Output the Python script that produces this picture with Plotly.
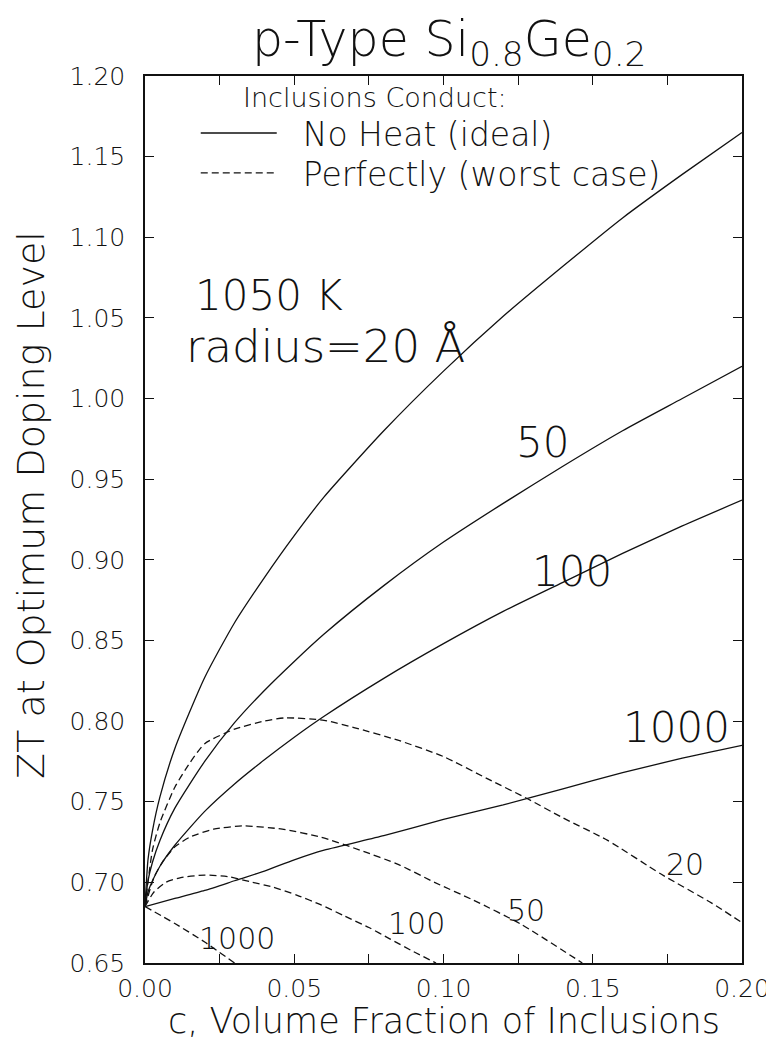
import plotly.graph_objects as go

# ---------------- data ----------------
c_solid = [0, 0.001, 0.0025, 0.005, 0.01, 0.02, 0.03, 0.04, 0.05, 0.06, 0.08,
           0.10, 0.12, 0.14, 0.16, 0.18, 0.20]
zt_ideal_20 = [0.685, 0.714, 0.732, 0.753, 0.783, 0.827, 0.861, 0.889, 0.915, 0.939,
               0.980, 1.017, 1.051, 1.082, 1.112, 1.139, 1.165]
zt_ideal_50 = [0.685, 0.701, 0.7125, 0.726, 0.746, 0.775, 0.799, 0.819, 0.837, 0.854,
               0.884, 0.911, 0.935, 0.958, 0.980, 1.000, 1.020]
zt_ideal_100 = [0.685, 0.694, 0.701, 0.710, 0.723, 0.744, 0.761, 0.776, 0.790, 0.803,
                0.8265, 0.848, 0.868, 0.886, 0.904, 0.921, 0.937]
c_ideal_1000 = [0, 0.01, 0.02, 0.03, 0.04, 0.05, 0.06, 0.08, 0.10, 0.12, 0.14, 0.16, 0.18, 0.20]
zt_ideal_1000 = [0.685, 0.690, 0.695, 0.701, 0.707, 0.714, 0.720, 0.729, 0.739, 0.748,
                 0.758, 0.768, 0.777, 0.785]

c_worst_20 = [0, 0.0025, 0.005, 0.01, 0.015, 0.02, 0.03, 0.04, 0.047, 0.06, 0.07, 0.085,
              0.10, 0.115, 0.128, 0.14, 0.155, 0.173, 0.19, 0.20]
zt_worst_20 = [0.685, 0.720, 0.737, 0.759, 0.774, 0.786, 0.795, 0.800, 0.802, 0.8005,
               0.796, 0.788, 0.778, 0.764, 0.752, 0.740, 0.726, 0.705, 0.687, 0.675]
c_worst_50 = [0, 0.003, 0.006, 0.01, 0.015, 0.023, 0.033, 0.046, 0.059, 0.072, 0.085,
              0.097, 0.11, 0.126, 0.1465]
zt_worst_50 = [0.685, 0.703, 0.713, 0.722, 0.728, 0.733, 0.735, 0.733, 0.728, 0.720,
               0.711, 0.700, 0.689, 0.674, 0.650]
c_worst_100 = [0, 0.003, 0.007, 0.012, 0.02, 0.028, 0.035, 0.043, 0.051, 0.059, 0.067,
               0.075, 0.082, 0.09, 0.0975]
zt_worst_100 = [0.685, 0.694, 0.700, 0.703, 0.7045, 0.7035, 0.7005, 0.697, 0.692, 0.686,
                0.679, 0.672, 0.665, 0.657, 0.650]
c_worst_1000 = [0, 0.01, 0.02, 0.03]
zt_worst_1000 = [0.685, 0.6745, 0.663, 0.650]

ideal_label_text = ["50", "100", "1000"]
ideal_label_c = [0.133, 0.143, 0.178]
ideal_label_zt = [0.973, 0.893, 0.796]
worst_label_text = ["20", "50", "100", "1000"]
worst_label_c = [0.181, 0.1275, 0.0908, 0.0307]
worst_label_zt = [0.711, 0.6825, 0.6745, 0.665]

x_tick_vals = [0, 0.05, 0.10, 0.15, 0.20]
x_tick_text = ["0.00", "0.05", "0.10", "0.15", "0.20"]
y_tick_vals = [0.65, 0.70, 0.75, 0.80, 0.85, 0.90, 0.95, 1.00, 1.05, 1.10, 1.15, 1.20]
y_tick_text = ["0.65", "0.70", "0.75", "0.80", "0.85", "0.90", "0.95", "1.00",
               "1.05", "1.10", "1.15", "1.20"]

FONT = "DejaVu Sans"
INK = "#111111"


def tfont(size):
    return dict(family=FONT, size=size, color=INK, weight=200)


fig = go.Figure()

ideal = [(c_solid, zt_ideal_20), (c_solid, zt_ideal_50), (c_solid, zt_ideal_100),
         (c_ideal_1000, zt_ideal_1000)]
for i, (xs, ys) in enumerate(ideal):
    fig.add_trace(go.Scatter(
        x=xs, y=ys, mode="lines",
        line=dict(color=INK, width=1.3, shape="spline", smoothing=0.6),
        name="\u00a0\u00a0No Heat (ideal)", legend="legend",
        legendgroup="ideal", showlegend=(i == 0)))

worst = [(c_worst_20, zt_worst_20), (c_worst_50, zt_worst_50), (c_worst_100, zt_worst_100),
         (c_worst_1000, zt_worst_1000)]
for i, (xs, ys) in enumerate(worst):
    fig.add_trace(go.Scatter(
        x=xs, y=ys, mode="lines",
        line=dict(color=INK, width=1.3, dash="7px,4px", shape="spline", smoothing=0.6),
        name="\u00a0\u00a0Perfectly (worst case)", legend="legend2",
        legendgroup="worst", showlegend=(i == 0)))

annotations = []
for t, cx, cy in zip(ideal_label_text, ideal_label_c, ideal_label_zt):
    annotations.append(dict(x=cx, y=cy, text=t, showarrow=False, font=tfont(42)))
for t, cx, cy in zip(worst_label_text, worst_label_c, worst_label_zt):
    annotations.append(dict(x=cx, y=cy, text=t, showarrow=False, font=tfont(30)))

annotations += [
    dict(x=0.016, y=1.064, text="1050 K", showarrow=False, xanchor="left", font=tfont(42)),
    dict(x=0.013, y=1.032, text="radius=20 Å", showarrow=False, xanchor="left", font=tfont(45)),
    dict(x=0.16, y=0.976, xref="paper", yref="paper", text="Inclusions Conduct:",
         showarrow=False, xanchor="left", yanchor="middle", font=tfont(27)),
    dict(x=0.51, y=1.0, xref="paper", yref="paper",
         text="p-Type Si<sub>0.8</sub>Ge<sub>0.2</sub>", showarrow=False,
         xanchor="center", yanchor="bottom", font=tfont(49)),
    dict(x=0.5, y=-0.0654, xref="paper", yref="paper",
         text="c, Volume Fraction of Inclusions", showarrow=False,
         xanchor="center", yanchor="middle", font=tfont(35)),
    dict(x=-0.19, y=0.516, xref="paper", yref="paper",
         text="ZT at Optimum Doping Level", showarrow=False, textangle=-90,
         xanchor="center", yanchor="middle", font=tfont(38)),
]

axis_common = dict(showline=True, linecolor=INK, linewidth=1.5, mirror="ticks",
                   ticks="inside", ticklen=9, tickwidth=1.3, tickcolor=INK,
                   showgrid=False, zeroline=False, ticklabeloverflow="allow",
                   tickfont=tfont(25))

legend_common = dict(x=0.085, xanchor="left", yanchor="middle", itemwidth=76,
                     bgcolor="rgba(0,0,0,0)", tracegroupgap=0, font=tfont(33))

fig.update_layout(
    width=774, height=1040,
    margin=dict(l=137, r=30, t=68, b=85),
    paper_bgcolor="white", plot_bgcolor="white",
    xaxis=dict(range=[0, 0.2], tickvals=x_tick_vals, ticktext=x_tick_text,
               ticklabelstandoff=2,
               minor=dict(dtick=0.025, ticks="inside", ticklen=9, tickwidth=1.3,
                          tickcolor=INK, showgrid=False),
               **axis_common),
    yaxis=dict(range=[0.65, 1.2], tickvals=y_tick_vals, ticktext=y_tick_text,
               ticklabelstandoff=13, **axis_common),
    legend=dict(y=0.9357, **legend_common),
    legend2=dict(y=0.8907, **legend_common),
    annotations=annotations,
    showlegend=True,
)

fig.write_html("out.html")
